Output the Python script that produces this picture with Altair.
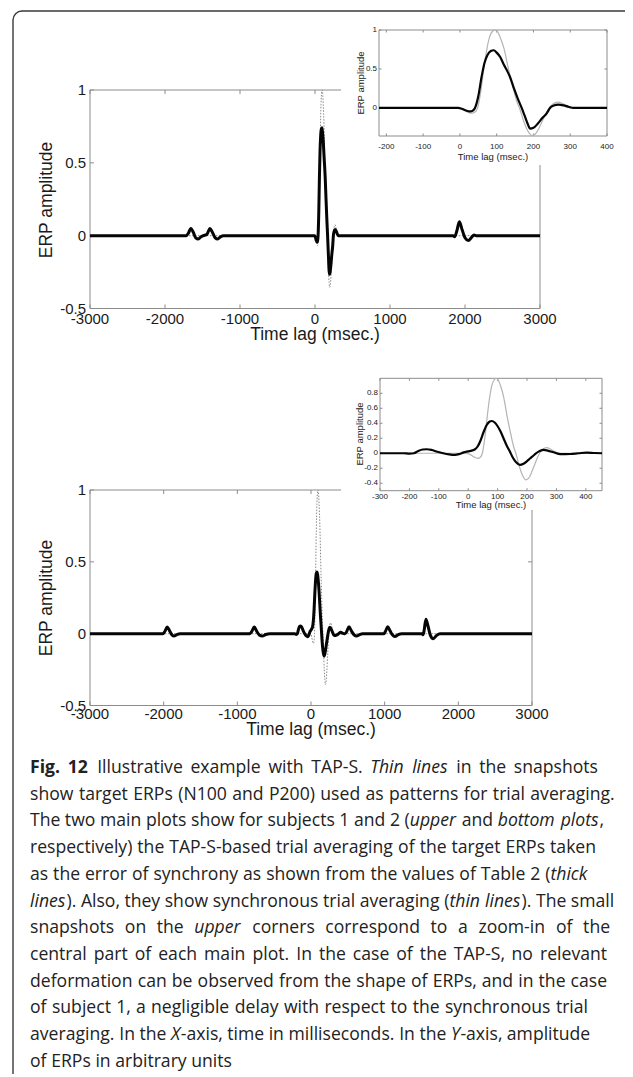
import re
import altair as alt
import pandas as pd

# ---------------- values ----------------
target_t = [-3000, -300, -220, -20, 0, 10, 20, 32, 42, 48, 57, 65, 72, 80, 90, 95,
            102, 110, 120, 132, 145, 155, 162, 170, 180, 188, 195, 205, 215, 228,
            240, 248, 258, 268, 278, 290, 302, 315, 400, 455, 3000]
target_amp = [0, 0, 0, 0, -0.005, -0.025, -0.05, -0.068, -0.05, 0.0, 0.22, 0.5, 0.72,
              0.9, 0.99, 1.0, 0.98, 0.9, 0.76, 0.5, 0.25, 0.08, 0.0, -0.12, -0.25,
              -0.32, -0.355, -0.335, -0.26, -0.13, -0.02, 0.03, 0.065, 0.075, 0.06,
              0.03, 0.008, 0.0, 0, 0, 0]

s1_center_t = [-3000, -220, -5, 5, 15, 28, 36, 41, 50, 59, 67, 75, 84, 92, 100, 110,
               120, 128, 136, 147, 159, 168, 176, 184, 191, 200, 212, 224, 236, 245,
               255, 268, 282, 295, 309, 400]
s1_center_amp = [0, 0, 0, -0.01, -0.03, -0.045, -0.03, 0.0, 0.15, 0.40, 0.58, 0.68,
                 0.73, 0.74, 0.71, 0.65, 0.55, 0.48, 0.40, 0.25, 0.10, 0.0, -0.1,
                 -0.2, -0.265, -0.255, -0.2, -0.13, -0.07, 0.0, 0.03, 0.043, 0.033,
                 0.015, 0, 0]
s1_wave_t = [-1720, -1690, -1655, -1620, -1590, -1555, -1520, -1490, -1440, -1400,
             -1365, -1330, -1298, -1260, -1222, 1840, 1862, 1890, 1925, 1962, 2000,
             2044, 2090, 2120, 2150, 3000]
s1_wave_amp = [0, 0.015, 0.05, 0.02, -0.015, -0.023, -0.008, 0.0, 0.01, 0.05, 0.02,
               -0.015, -0.023, -0.008, 0, 0, -0.008, 0.03, 0.095, 0.04, -0.015,
               -0.034, -0.01, 0.004, 0, 0]

s2_center_t = [-3000, -300, -220, -200, -185, -170, -155, -141, -125, -105, -85, -65,
               -45, -30, -15, 0, 12, 22, 32, 42, 52, 62, 72, 80, 90, 100, 110, 120,
               130, 142, 152, 163, 176, 188, 200, 211, 225, 239, 256, 270, 290, 313,
               347, 375, 403, 430, 455]
s2_center_amp = [0, 0, 0, -0.005, 0.0, 0.03, 0.05, 0.053, 0.045, 0.02, 0.0, -0.015,
                 -0.022, -0.01, 0.012, 0.025, 0.035, 0.05, 0.09, 0.17, 0.28, 0.37,
                 0.42, 0.43, 0.41, 0.36, 0.29, 0.2, 0.11, 0.02, -0.06, -0.12, -0.156,
                 -0.14, -0.105, -0.067, -0.02, 0.022, 0.044, 0.035, 0.013, -0.013,
                 -0.01, 0.0, 0.009, 0.003, 0]
s2_wave_t = [-2010, -1985, -1951, -1915, -1885, -1860, -1820, -1778,
             -830, -805, -770, -735, -700, -660, -615, -560,
             460, 485, 515, 550, 585, 619, 660, 700,
             990, 1010, 1040, 1075, 1105, 1139, 1185, 1230,
             1505, 1520, 1535, 1560, 1590, 1620, 1659, 1705, 1750, 3000]
s2_wave_amp = [0, 0.015, 0.046, 0.015, -0.01, -0.016, -0.006, 0,
               0, 0.015, 0.046, 0.015, -0.01, -0.016, -0.006, 0,
               0, 0.015, 0.048, 0.018, -0.008, -0.016, -0.006, 0,
               0, 0.015, 0.048, 0.018, -0.008, -0.02, -0.006, 0,
               0, -0.008, 0.02, 0.1, 0.05, -0.01, -0.035, -0.012, 0, 0]

main_x_ticks = [-3000, -2000, -1000, 0, 1000, 2000, 3000]
main_x_labels = ["-3000", "-2000", "-1000", "0", "1000", "2000", "3000"]
main_y_ticks = [-0.5, 0, 0.5, 1]
main_y_labels = ["-0.5", "0", "0.5", "1"]
ins1_x_ticks = [-200, -100, 0, 100, 200, 300, 400]
ins1_x_labels = ["-200", "-100", "0", "100", "200", "300", "400"]
ins1_y_ticks = [0, 0.5, 1]
ins1_y_labels = ["0", "0.5", "1"]
ins2_x_ticks = [-300, -200, -100, 0, 100, 200, 300, 400]
ins2_x_labels = ["-300", "-200", "-100", "0", "100", "200", "300", "400"]
ins2_y_ticks = [-0.4, -0.2, 0, 0.2, 0.4, 0.6, 0.8]
ins2_y_labels = ["-0.4", "-0.2", "0", "0.2", "0.4", "0.6", "0.8"]

x_title = "Time lag (msec.)"
y_title = "ERP amplitude"

caption_lines = [
    "*Fig.* *12* Illustrative example with TAP-S. _Thin_ _lines_ in the snapshots",
    "show target ERPs (N100 and P200) used as patterns for trial averaging.",
    "The two main plots show for subjects 1 and 2 (_upper_ and _bottom_ _plots_,",
    "respectively) the TAP-S-based trial averaging of the target ERPs taken",
    "as the error of synchrony as shown from the values of Table 2 (_thick_",
    "_lines_). Also, they show synchronous trial averaging (_thin_ _lines_). The small",
    "snapshots on the _upper_ corners correspond to a zoom-in of the",
    "central part of each main plot. In the case of the TAP-S, no relevant",
    "deformation can be observed from the shape of ERPs, and in the case",
    "of subject 1, a negligible delay with respect to the synchronous trial",
    "averaging. In the _X_-axis, time in milliseconds. In the _Y_-axis, amplitude",
    "of ERPs in arbitrary units",
]
# right end of each caption line as seen in the figure (lines set to that measure)
caption_justify = {0: 598, 1: 615, 3: 596, 4: 588, 6: 610, 7: 607, 8: 607, 9: 588, 10: 590}

# ---------------- chart construction ----------------
OFF = 8
AXC = "#8c8c8c"
TXT = "#1a1a1a"
AFONT = "Liberation Sans"


def series(ts, amps, extra_t=None, extra_a=None):
    t = list(ts) + (list(extra_t) if extra_t else [])
    a = list(amps) + (list(extra_a) if extra_a else [])
    return pd.DataFrame({"t": t, "a": a}).sort_values("t").drop_duplicates("t")


def panel(xdom, ydom, xpx, ypx, black_df, grey_df, xt, xl, yt, yl, cfg, bg=None):
    xpx = [v - OFF for v in xpx]
    ypx = [v - OFF for v in ypx]
    xs = alt.Scale(domain=xdom, range=xpx, nice=False, zero=False)
    ys = alt.Scale(domain=ydom, range=ypx, nice=False, zero=False)

    def X(f):
        return alt.X(f, type="quantitative", scale=xs, axis=None)

    def Y(f):
        return alt.Y(f, type="quantitative", scale=ys, axis=None)

    kx = (xdom[1] - xdom[0]) / abs(xpx[1] - xpx[0])
    ky = (ydom[1] - ydom[0]) / abs(ypx[0] - ypx[1])
    L = cfg["tick"]
    layers = []
    if bg:
        bgd = pd.DataFrame({
            "bx1": [xdom[0] - (xpx[0] - (bg[0] - OFF)) * kx],
            "bx2": [xdom[1] + ((bg[1] - OFF) - xpx[1]) * kx],
            "by1": [ydom[0] - ((bg[3] - OFF) - ypx[0]) * ky],
            "by2": [ydom[1] + (ypx[1] - (bg[2] - OFF)) * ky]})
        layers.append(alt.Chart(bgd).mark_rect(fill="white", strokeWidth=0).encode(
            x=X("bx1"), x2="bx2", y=Y("by1"), y2="by2"))
    box = pd.DataFrame({"x1": [xdom[0]], "x2": [xdom[1]], "y1": [ydom[0]], "y2": [ydom[1]]})
    layers.append(alt.Chart(box).mark_rect(fillOpacity=0, stroke=AXC, strokeWidth=1).encode(
        x=X("x1"), x2="x2", y=Y("y1"), y2="y2"))
    rows = []
    for t in xt:
        rows.append({"xa": t, "xb": t, "ya": ydom[0], "yb": ydom[0] + L * ky})
        rows.append({"xa": t, "xb": t, "ya": ydom[1], "yb": ydom[1] - L * ky})
    for v in yt:
        rows.append({"xa": xdom[0], "xb": xdom[0] + L * kx, "ya": v, "yb": v})
        rows.append({"xa": xdom[1], "xb": xdom[1] - L * kx, "ya": v, "yb": v})
    layers.append(alt.Chart(pd.DataFrame(rows)).mark_rule(color=AXC, strokeWidth=1).encode(
        x=X("xa"), x2="xb", y=Y("ya"), y2="yb"))

    g = grey_df[(grey_df.t >= xdom[0]) & (grey_df.t <= xdom[1])]
    b = black_df[(black_df.t >= xdom[0]) & (black_df.t <= xdom[1])]
    gkw = dict(color=cfg["gcol"], strokeWidth=cfg["gw"], interpolate="monotone")
    if cfg.get("gdash"):
        gkw["strokeDash"] = cfg["gdash"]
    layers.append(alt.Chart(g).mark_line(**gkw).encode(x=X("t"), y=Y("a")))
    layers.append(alt.Chart(b).mark_line(color="#050505", strokeWidth=cfg["bw"],
                                         interpolate="monotone").encode(x=X("t"), y=Y("a")))

    xlab = pd.DataFrame({"t": xt, "lab": xl, "yb": [ydom[0]] * len(xt)})
    layers.append(alt.Chart(xlab).mark_text(
        dy=cfg["xdy"], baseline="middle", align="center", font=AFONT,
        fontSize=cfg["fs"], color=TXT).encode(x=X("t"), y=Y("yb"), text=alt.Text("lab:N")))
    ylab = pd.DataFrame({"v": yt, "lab": yl, "xb": [xdom[0]] * len(yt)})
    layers.append(alt.Chart(ylab).mark_text(
        dx=-cfg["ydx"], baseline="middle", align="right", font=AFONT,
        fontSize=cfg["fs"], color=TXT).encode(x=X("xb"), y=Y("v"), text=alt.Text("lab:N")))

    d0 = pd.DataFrame({"d": [0]})
    layers.append(alt.Chart(d0).mark_text(
        text=x_title, font=AFONT, fontSize=cfg["tfs"], color=TXT, align="center",
        baseline="middle").encode(x=alt.value(cfg["xt_pos"][0] - OFF),
                                  y=alt.value(cfg["xt_pos"][1] - OFF)))
    layers.append(alt.Chart(d0).mark_text(
        text=y_title, font=AFONT, fontSize=cfg["tfs"], color=TXT, align="center",
        baseline="middle", angle=270).encode(x=alt.value(cfg["yt_pos"][0] - OFF),
                                             y=alt.value(cfg["yt_pos"][1] - OFF)))
    return alt.layer(*layers)


grey = series(target_t, target_amp)
black1 = series(s1_center_t, s1_center_amp, s1_wave_t, s1_wave_amp)
black2 = series(s2_center_t, s2_center_amp, s2_wave_t, s2_wave_amp)

main_cfg = dict(tick=4, gcol="#8a8a8a", gw=1.0, gdash=[1.5, 1.5], bw=3.0, fs=15,
                tfs=17.5, xdy=10, ydx=4)
ins_cfg = dict(tick=2.5, gcol="#b4b4b4", gw=1.2, bw=2.2, fs=8, tfs=9.5, xdy=10, ydx=2)

main1 = panel([-3000, 3000], [-0.5, 1], [90, 540], [308.5, 90], black1, grey,
              main_x_ticks, main_x_labels, main_y_ticks, main_y_labels,
              dict(main_cfg, xt_pos=(315, 335), yt_pos=(47, 200)))
inset1 = panel([-220, 400], [-0.36, 1], [379, 607], [136, 30], black1, grey,
               ins1_x_ticks, ins1_x_labels, ins1_y_ticks, ins1_y_labels,
               dict(ins_cfg, xdy=11, xt_pos=(493, 157), yt_pos=(361, 83)),
               bg=(341, 625, 17, 165))
main2 = panel([-3000, 3000], [-0.5, 1], [90, 532], [705.5, 490], black2, grey,
              main_x_ticks, main_x_labels, main_y_ticks, main_y_labels,
              dict(main_cfg, xdy=8, xt_pos=(311, 730), yt_pos=(47, 598)))
inset2 = panel([-300, 455], [-0.5, 1], [380, 602], [490.7, 378.3], black2, grey,
               ins2_x_ticks, ins2_x_labels, ins2_y_ticks, ins2_y_labels,
               dict(ins_cfg, xdy=6, xt_pos=(491, 505), yt_pos=(360, 434)),
               bg=(341, 625, 366, 510))

# ---------------- caption ----------------
CFONT = "Open Sans"
CFS = 17.6
LEFT = 30
W = dict(zip("abcdefghijklmnopqrstuvwxyz",
             [1139, 1255, 975, 1255, 1149, 694, 1122, 1257, 518, 518, 1075, 518, 1905,
              1257, 1237, 1255, 1255, 836, 977, 723, 1257, 1026, 1593, 1073, 1028, 977]))
W.update({"A": 1296, "E": 1139, "F": 1057, "I": 571, "N": 1544, "P": 1233, "R": 1266,
          "S": 1104, "T": 1120, "X": 1188, "Y": 1147, ".": 545, ",": 502, "(": 606,
          ")": 606, "-": 659, " ": 532})
for d in "0123456789":
    W[d] = 1171
FACT = {"normal": 1.0, "italic": 0.96, "bold": 1.08}


def text_w(s, style):
    return sum(W.get(c, 1150) for c in s) / 2048.0 * CFS * FACT[style]


rows = []
for li, line in enumerate(caption_lines):
    tokens = []
    for tok in line.split(" "):
        segs = []
        for part in re.findall(r"\*[^*]+\*|_[^_]+_|[^*_]+", tok):
            if part.startswith("*"):
                segs.append((part[1:-1], "bold"))
            elif part.startswith("_"):
                segs.append((part[1:-1], "italic"))
            else:
                segs.append((part, "normal"))
        tokens.append(segs)
    widths = [sum(text_w(s, st) for s, st in segs) for segs in tokens]
    space = text_w(" ", "normal")
    gap = space
    if li in caption_justify and len(tokens) > 1:
        gap = max(space, (caption_justify[li] - LEFT - sum(widths)) / (len(tokens) - 1))
    x = LEFT
    for segs, wtok in zip(tokens, widths):
        sx = x
        for s, st in segs:
            rows.append({"x": sx - OFF, "y": 768 + li * 26.7 - OFF, "text": s, "style": st})
            sx += text_w(s, st)
        x += wtok + gap
cap = pd.DataFrame(rows)

cap_layers = []
for style in ["normal", "italic", "bold"]:
    kw = dict(font=CFONT, fontSize=CFS, color="#222222", align="left", baseline="middle")
    if style == "italic":
        kw["fontStyle"] = "italic"
    if style == "bold":
        kw["fontWeight"] = "bold"
    cap_layers.append(alt.Chart(cap[cap["style"] == style]).mark_text(**kw).encode(
        x=alt.X("x:Q", scale=None, axis=None), y=alt.Y("y:Q", scale=None, axis=None),
        text="text:N"))

border = alt.Chart(pd.DataFrame({"d": [0]})).mark_rect(
    fillOpacity=0, stroke="#3a3a3a", strokeWidth=1.4, cornerRadius=9).encode(
    x=alt.value(13 - OFF), x2=alt.value(640), y=alt.value(11 - OFF), y2=alt.value(1100))

chart = alt.layer(main1, inset1, main2, inset2, *cap_layers, border).resolve_scale(
    x="independent", y="independent"
).properties(
    width=617, height=1066, padding=0,
    autosize=alt.AutoSizeParams(type="none")
).configure_view(stroke=None)

chart.save("out.html", embed_options={"renderer": "svg", "actions": False})
